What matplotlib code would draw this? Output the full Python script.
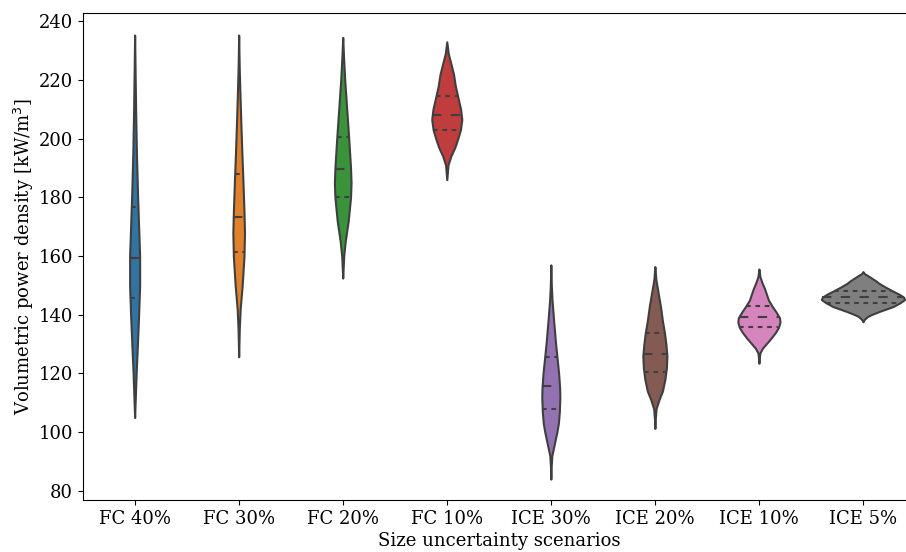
import numpy as np
import matplotlib
matplotlib.use("Agg")
import matplotlib.pyplot as plt

plt.rcParams['font.family'] = ['DejaVu Serif']
plt.rcParams['font.size'] = 13

categories = ["FC 40%", "FC 30%", "FC 20%", "FC 10%", "ICE 30%", "ICE 20%", "ICE 10%", "ICE 5%"]
colors = ["#3274A1", "#E1812C", "#3A923A", "#C03D3E", "#9372B2", "#845B53", "#D684BD", "#7F7F7F"]

# violin profiles: support values and (relative) density
fc40_y = [235.3, 225, 210, 195, 180, 170, 160, 150, 140, 130, 120, 110, 105]
fc40_d = [0, 0.4, 1.0, 1.8, 3.0, 4.0, 5.0, 5.0, 4.0, 2.8, 1.5, 0.5, 0]
fc30_y = [235.3, 225, 215, 205, 195, 185, 175, 168, 160, 150, 142, 135, 125.7]
fc30_d = [0, 0.5, 1.3, 2.2, 3.2, 4.3, 5.3, 5.8, 5.3, 3.5, 1.5, 0.6, 0]
fc20_y = [234.5, 228, 220, 210, 200, 190, 185, 180, 172, 165, 160, 152.5]
fc20_d = [0, 0.8, 2.0, 4.0, 6.0, 7.8, 8.3, 7.8, 5.5, 2.5, 1.0, 0]
fc10_y = [233, 229, 225, 222, 218, 214.5, 210, 206.5, 203, 200, 197, 194, 191, 186]
fc10_d = [0, 1.5, 4.5, 6.7, 8.5, 10.8, 13.8, 15, 13.6, 11.0, 8.0, 4.0, 1.2, 0]
ice30_y = [157, 150, 145, 138, 130, 125, 120, 115, 112, 107, 103, 100, 96, 92, 88, 84]
ice30_d = [0, 0.5, 1.2, 2.8, 4.8, 6.3, 7.8, 8.8, 9.0, 8.5, 7.5, 6.0, 3.5, 1.0, 0.3, 0]
ice20_y = [156.4, 152, 148, 143, 138, 134, 130, 126, 122, 118, 114, 111, 108, 104, 101.3]
ice20_d = [0, 1.0, 3.0, 5.5, 7.5, 9.5, 11, 12, 11.5, 10, 7.5, 4, 1.2, 0.3, 0]
ice10_y = [155.6, 153, 151, 149, 147, 145, 143, 141, 139, 137.5, 135.7, 134, 132, 130, 128.6, 127, 125, 123.5]
ice10_d = [0, 1.0, 3.0, 5.5, 7.5, 9.5, 13, 17, 20.5, 21, 19.5, 16.5, 12, 7, 3.5, 1.0, 0.3, 0]
ice5_y = [154.7, 154, 153.5, 152.4, 151.5, 150.7, 149.5, 148.2, 147, 146, 145.2, 144.1, 142.8, 141.1, 140, 139.4, 138.5, 137.6]
ice5_d = [0, 1.5, 4, 9, 13, 16, 22, 29, 36, 40.5, 41.5, 37, 30, 16, 8, 4.5, 1.5, 0]

q1 = [145.7, 161.5, 180.2, 203.0, 107.8, 120.4, 135.7, 144.1]
median = [159.3, 173.4, 189.6, 208.1, 115.7, 126.5, 139.2, 146.0]
q3 = [176.8, 188.0, 200.5, 214.5, 125.7, 133.9, 143.0, 148.2]

profiles = [(fc40_y, fc40_d), (fc30_y, fc30_d), (fc20_y, fc20_d), (fc10_y, fc10_d),
            (ice30_y, ice30_d), (ice20_y, ice20_d), (ice10_y, ice10_d), (ice5_y, ice5_d)]

fig = plt.figure(figsize=(9.06, 5.52), dpi=100)
ax = fig.add_axes([82.6 / 906, 52 / 552, (915 - 82.6) / 906, (539 - 52) / 552])

edge = "#3f3f3f"
lw = 1.5
dmax = max(max(d) for _, d in profiles)
scale = 0.4 / dmax

for i, (ys, ds) in enumerate(profiles):
    ys = np.asarray(ys, float)
    ds = np.asarray(ds, float) * scale
    order = np.argsort(ys)
    ys, ds = ys[order], ds[order]
    ax.fill_betweenx(ys, i - ds, i + ds, facecolor=colors[i], edgecolor=edge, linewidth=lw, zorder=2)
    for val, dash in ((q1[i], [lw * 1.5] * 2), (median[i], [lw * 3] * 2), (q3[i], [lw * 1.5] * 2)):
        h = np.interp(val, ys, ds)
        ax.plot([i - h, i + h], [val, val], color=edge, linewidth=lw, dashes=dash, zorder=3)

ax.set_xlim(-0.5, 7.5)
ax.set_ylim(76.9, 242.8)
ax.set_xticks(range(len(categories)))
ax.set_xticklabels(categories)
ax.set_yticks(np.arange(80, 241, 20))
ax.set_xlabel("Size uncertainty scenarios", labelpad=3)
ax.set_ylabel("Volumetric power density [kW/m$^3$]", labelpad=1.5)

fig.savefig("out.png", dpi=100)
